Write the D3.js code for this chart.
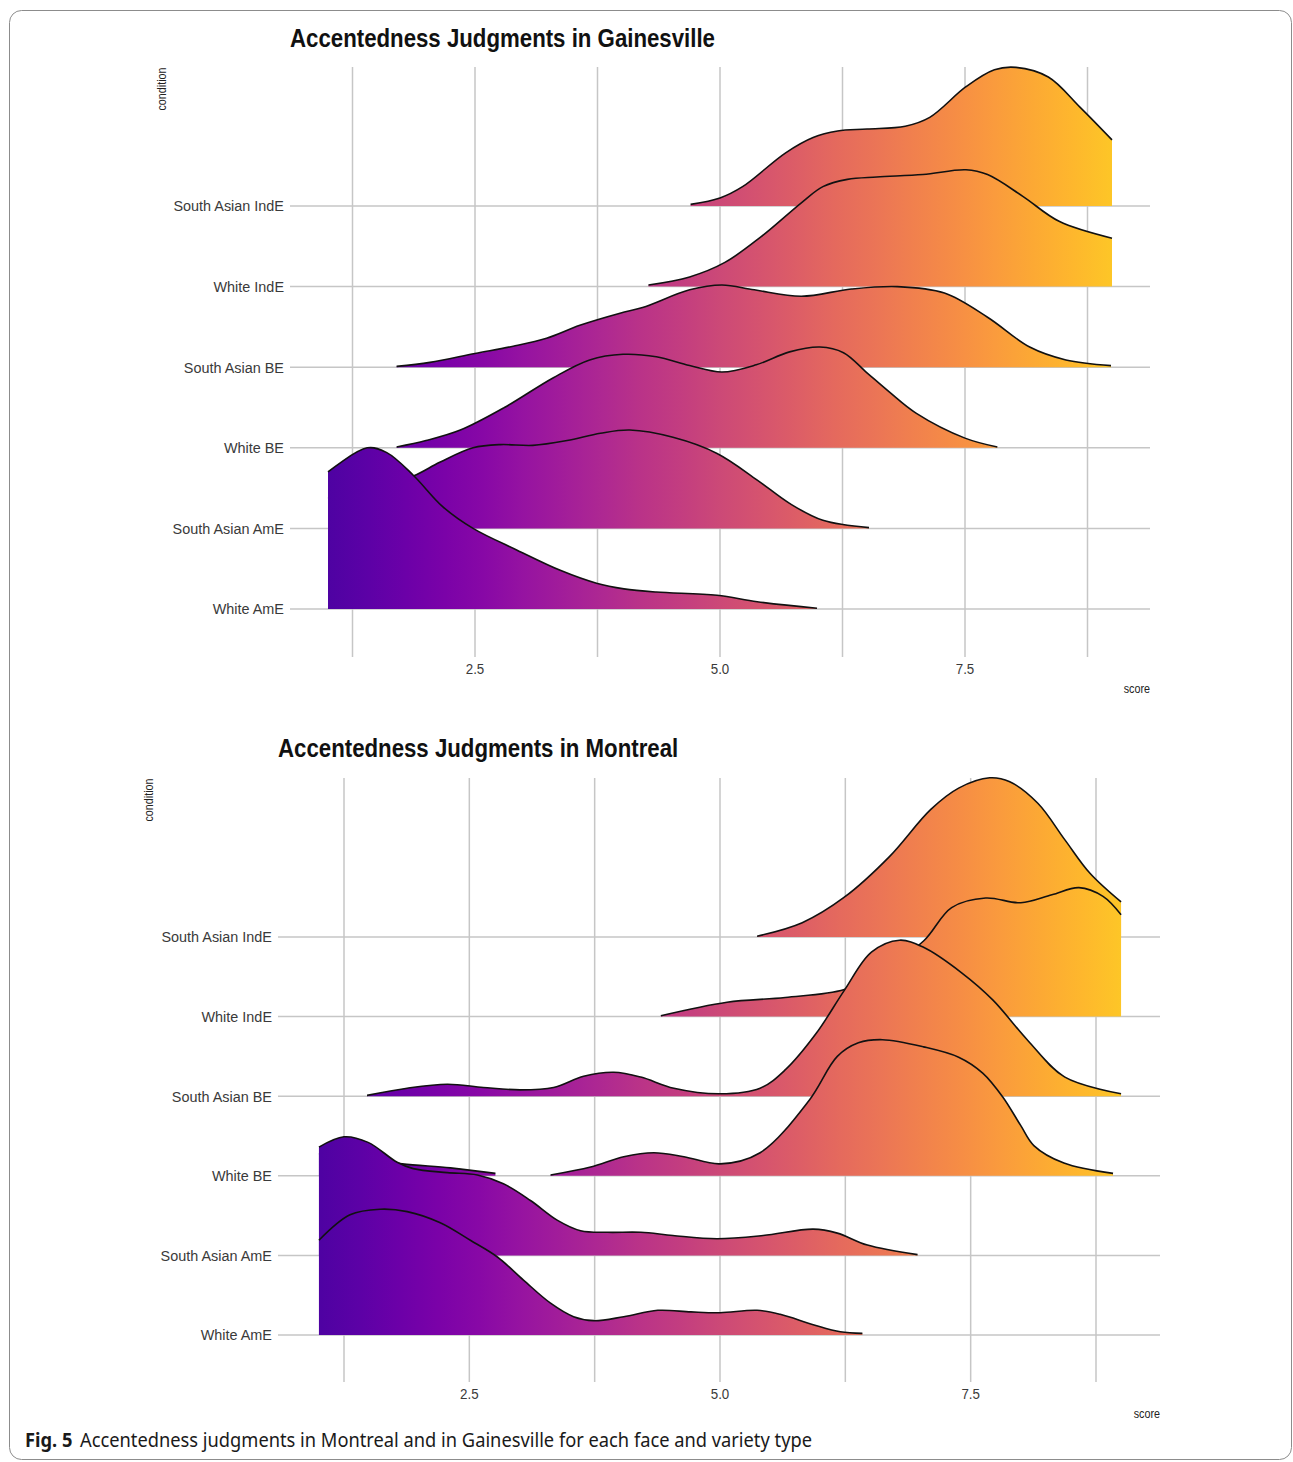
<!DOCTYPE html>
<html>
<head>
<meta charset="utf-8">
<script src="https://cdn.jsdelivr.net/npm/d3@7"></script>
<style>
  body { margin: 0; background: #fff; }
  text { font-family: "Liberation Sans", Arial, sans-serif; }
</style>
</head>
<body>
<svg width="1293" height="1462"></svg>
<script>
const svg = d3.select("svg");
const defs = svg.append("defs");

// rows, top to bottom
const conditions = ["South Asian IndE", "White IndE", "South Asian BE", "White BE", "South Asian AmE", "White AmE"];
const labelTicks = [2.5, 5.0, 7.5];
const minorTicks = [1.25, 3.75, 6.25, 8.75];

// ridge outlines: [score, height in row units]
const gnvSAIndE = [[4.70,0.02],[5.0,0.10],[5.23,0.24],[5.67,0.66],[5.95,0.85],[6.2,0.93],[6.5,0.955],[6.89,0.99],[7.14,1.10],[7.51,1.48],[7.80,1.69],[8.02,1.72],[8.35,1.60],[8.67,1.23],[9.0,0.82]];
const gnvWhiteIndE = [[4.27,0.02],[4.69,0.12],[5.05,0.30],[5.42,0.62],[5.83,1.04],[6.05,1.24],[6.3,1.33],[6.6,1.36],[7.07,1.39],[7.51,1.45],[7.73,1.39],[8.09,1.12],[8.46,0.81],[9.0,0.60]];
const gnvSABE = [[1.70,0.01],[2.04,0.06],[2.50,0.17],[2.89,0.26],[3.23,0.36],[3.57,0.52],[3.98,0.67],[4.21,0.74],[4.69,0.96],[5.02,1.02],[5.35,0.96],[5.83,0.88],[6.34,0.97],[6.81,1.00],[7.29,0.92],[7.73,0.62],[8.16,0.25],[8.53,0.09],[8.99,0.02]];
const gnvWhiteBE = [[1.70,0.01],[2.0,0.09],[2.35,0.22],[2.80,0.50],[3.30,0.87],[3.67,1.09],[4.01,1.16],[4.35,1.13],[4.69,1.02],[5.02,0.94],[5.37,1.03],[5.71,1.19],[6.02,1.25],[6.26,1.18],[6.50,0.93],[6.73,0.69],[7.0,0.43],[7.5,0.12],[7.83,0.01]];
const gnvSAAmE = [[1.0,0.37],[1.5,0.52],[1.87,0.65],[2.14,0.82],[2.48,1.00],[2.76,1.04],[3.09,1.03],[3.44,1.09],[3.78,1.18],[4.08,1.22],[4.52,1.13],[4.97,0.93],[5.38,0.60],[5.71,0.31],[6.05,0.10],[6.52,0.01]];
const gnvWhiteAmE = [[1.0,1.70],[1.40,2.00],[1.60,1.94],[1.87,1.66],[2.17,1.27],[2.48,1.00],[2.93,0.73],[3.37,0.48],[3.74,0.32],[4.02,0.25],[4.35,0.21],[4.97,0.17],[5.38,0.09],[5.99,0.01]];

const mtlSAIndE = [[5.37,0.01],[5.82,0.18],[6.24,0.50],[6.69,1.01],[7.10,1.60],[7.38,1.87],[7.69,2.00],[7.89,1.95],[8.17,1.68],[8.44,1.22],[8.69,0.80],[9.0,0.44]];
const mtlWhiteIndE = [[4.41,0.01],[5.07,0.18],[5.65,0.24],[6.24,0.34],[6.6,0.57],[7.03,0.95],[7.31,1.37],[7.65,1.49],[8.0,1.43],[8.31,1.53],[8.58,1.62],[8.82,1.51],[9.0,1.28]];
const mtlSABE = [[1.48,0.01],[1.88,0.10],[2.28,0.15],[2.64,0.11],[3.01,0.08],[3.34,0.11],[3.64,0.25],[3.94,0.30],[4.21,0.24],[4.54,0.10],[5.0,0.03],[5.40,0.10],[5.65,0.33],[5.96,0.79],[6.24,1.33],[6.51,1.81],[6.79,1.96],[7.03,1.87],[7.41,1.55],[7.72,1.21],[8.07,0.70],[8.44,0.24],[9.0,0.03]];
const mtlWhiteBE = [[3.31,0.01],[3.71,0.11],[4.04,0.24],[4.34,0.29],[4.64,0.24],[5.0,0.15],[5.40,0.29],[5.89,0.95],[6.17,1.50],[6.38,1.67],[6.62,1.71],[7.03,1.62],[7.38,1.49],[7.62,1.29],[7.82,0.99],[8.0,0.63],[8.13,0.38],[8.43,0.16],[8.92,0.03]];
const mtlWhiteBELow = [[1.0,0.28],[1.4,0.23],[1.83,0.15],[2.31,0.10],[2.76,0.03]];
const mtlSAAmE = [[1.0,1.36],[1.25,1.49],[1.49,1.42],[1.78,1.17],[1.94,1.09],[2.28,1.04],[2.58,1.01],[2.84,0.90],[3.11,0.69],[3.38,0.44],[3.61,0.31],[3.88,0.29],[4.21,0.29],[4.53,0.25],[4.97,0.21],[5.43,0.25],[5.93,0.33],[6.17,0.28],[6.47,0.13],[6.97,0.01]];
const mtlWhiteAmE = [[1.0,1.19],[1.31,1.51],[1.61,1.58],[1.88,1.55],[2.21,1.41],[2.51,1.19],[2.78,0.98],[3.04,0.69],[3.31,0.40],[3.54,0.23],[3.74,0.18],[4.04,0.23],[4.38,0.31],[4.71,0.29],[5.0,0.28],[5.37,0.31],[5.60,0.26],[5.93,0.13],[6.2,0.04],[6.42,0.02]];

// squeeze text a little to match the narrow face of the original
function squeeze(sel, k) {
  sel.each(function() {
    const w = this.getComputedTextLength();
    this.setAttribute("textLength", w * k);
    this.setAttribute("lengthAdjust", "spacingAndGlyphs");
  });
  return sel;
}

const ridgePanel = (opt) => {
  const g = svg.append("g");
  const x = d3.scaleLinear().domain([1.25, 8.75]).range(opt.xr);
  const y = d3.scalePoint().domain(conditions).range(opt.yr);
  const h = d3.scaleLinear().domain([0, 1]).range([0, y.step()]);

  const gid = "plasma-" + opt.id;
  const grad = defs.append("linearGradient").attr("id", gid)
    .attr("gradientUnits", "userSpaceOnUse")
    .attr("x1", x(1)).attr("x2", x(9)).attr("y1", 0).attr("y2", 0);
  d3.range(0, 1.0001, 0.05).forEach(t => {
    grad.append("stop").attr("offset", t).attr("stop-color", d3.interpolatePlasma(0.13 + t * 0.75));
  });

  // title
  squeeze(g.append("text")
    .attr("x", opt.hx[0]).attr("y", opt.titleY)
    .style("font-size", "26px").style("font-weight", "bold").attr("fill", "#111")
    .text(opt.title), 0.855);

  // grid
  g.selectAll(".vgrid").data(labelTicks.concat(minorTicks)).join("line")
    .attr("x1", d => x(d)).attr("x2", d => x(d))
    .attr("y1", opt.vy[0]).attr("y2", opt.vy[1])
    .attr("stroke", "#c6c6c6").attr("stroke-width", 1.5);
  g.selectAll(".hgrid").data(conditions).join("line")
    .attr("x1", opt.hx[0]).attr("x2", opt.hx[1])
    .attr("y1", d => y(d)).attr("y2", d => y(d))
    .attr("stroke", "#c6c6c6").attr("stroke-width", 1.5);

  // row labels
  squeeze(g.selectAll(".rowlab").data(conditions).join("text")
    .attr("x", opt.hx[0] - 6).attr("y", d => y(d)).attr("dy", "0.35em")
    .attr("text-anchor", "end").style("font-size", "15.5px").attr("fill", "#3a3a3a")
    .text(d => d), 0.93);

  // tick labels
  squeeze(g.selectAll(".ticklab").data(labelTicks).join("text")
    .attr("x", d => x(d)).attr("y", opt.vy[1] + 12).attr("dy", "0.35em")
    .attr("text-anchor", "middle").style("font-size", "15.5px").attr("fill", "#3a3a3a")
    .text(d => d3.format(".1f")(d)), 0.86);

  squeeze(g.append("text")
    .attr("x", opt.hx[1]).attr("y", opt.vy[1] + 32).attr("dy", "0.35em")
    .attr("text-anchor", "end").style("font-size", "12.5px").attr("fill", "#222")
    .text("score"), 0.86);

  squeeze(g.append("text")
    .attr("transform", `translate(${opt.condX},${opt.vy[0] + 22}) rotate(-90)`)
    .attr("text-anchor", "middle").attr("dy", "0.35em")
    .style("font-size", "12.5px").attr("fill", "#222")
    .text("condition"), 0.86);

  // ridges, top row first so lower rows sit in front
  opt.ridges.forEach(r => {
    const base = y(r.cond);
    const top = d => Math.min(base, base - h(d[1]));
    const area = d3.area().x(d => x(d[0])).y0(base).y1(top).curve(d3.curveCatmullRom.alpha(0.5));
    const line = d3.line().x(d => x(d[0])).y(top).curve(d3.curveCatmullRom.alpha(0.5));
    g.append("path").attr("d", area(r.pts)).attr("fill", `url(#${gid})`);
    g.append("path").attr("d", line(r.pts)).attr("fill", "none")
      .attr("stroke", "#111").attr("stroke-width", 1.6).attr("stroke-linejoin", "round");
  });
};

// frame
svg.append("rect")
  .attr("x", 9.5).attr("y", 10.5).attr("width", 1282).attr("height", 1449).attr("rx", 12)
  .attr("fill", "none").attr("stroke", "#8c8c8c").attr("stroke-width", 1);

ridgePanel({
  id: "gnv",
  title: "Accentedness Judgments in Gainesville",
  titleY: 47,
  xr: [352.5, 1087.5],
  yr: [206, 609],
  hx: [290, 1150],
  vy: [67, 657],
  condX: 162,
  ridges: [
    { cond: "South Asian IndE", pts: gnvSAIndE },
    { cond: "White IndE", pts: gnvWhiteIndE },
    { cond: "South Asian BE", pts: gnvSABE },
    { cond: "White BE", pts: gnvWhiteBE },
    { cond: "South Asian AmE", pts: gnvSAAmE },
    { cond: "White AmE", pts: gnvWhiteAmE }
  ]
});

ridgePanel({
  id: "mtl",
  title: "Accentedness Judgments in Montreal",
  titleY: 757,
  xr: [344, 1096],
  yr: [937, 1335],
  hx: [278, 1160],
  vy: [778, 1382],
  condX: 149,
  ridges: [
    { cond: "South Asian IndE", pts: mtlSAIndE },
    { cond: "White IndE", pts: mtlWhiteIndE },
    { cond: "South Asian BE", pts: mtlSABE },
    { cond: "White BE", pts: mtlWhiteBE },
    { cond: "White BE", pts: mtlWhiteBELow },
    { cond: "South Asian AmE", pts: mtlSAAmE },
    { cond: "White AmE", pts: mtlWhiteAmE }
  ]
});

// caption
const cap = svg.append("text").attr("x", 25).attr("y", 1447)
  .style("font-family", "'Noto Sans', 'Open Sans', sans-serif").style("font-size", "19px").attr("fill", "#1a1a1a");
cap.append("tspan").style("font-weight", "bold").text("Fig. 5");
cap.append("tspan").attr("dx", 8).text("Accentedness judgments in Montreal and in Gainesville for each face and variety type");
cap.attr("textLength", 787).attr("lengthAdjust", "spacingAndGlyphs");
</script>
</body>
</html>
